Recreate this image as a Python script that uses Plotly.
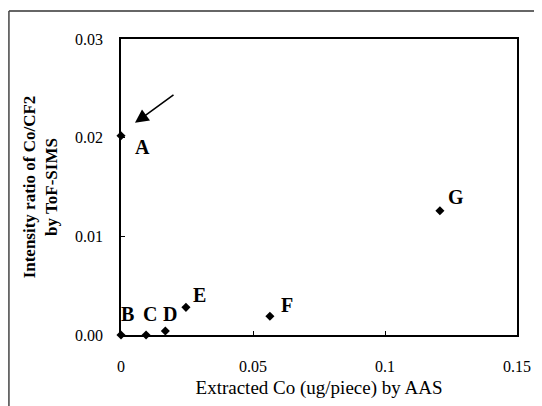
import plotly.graph_objects as go

labels = ["A", "B", "C", "D", "E", "F", "G"]
x_vals = [0.0, 0.0, 0.0095, 0.0168, 0.0246, 0.0564, 0.1208]
y_vals = [0.0202, 0.0, 0.0, 0.0004, 0.0028, 0.0019, 0.0126]

x_ticks = [0, 0.05, 0.1, 0.15]
x_ticktext = ["0", "0.05", "0.1", "0.15"]
y_ticks = [0, 0.01, 0.02, 0.03]
y_ticktext = ["0.00", "0.01", "0.02", "0.03"]

FONT = "Liberation Serif"

fig = go.Figure()
fig.add_trace(go.Scatter(
    x=x_vals, y=y_vals, mode="markers",
    marker=dict(symbol="diamond", size=7, color="black"),
    cliponaxis=False, showlegend=False, hoverinfo="x+y",
))

# point label offsets in pixels (right, down)
offsets = {"A": (21, 11), "B": (6, -21), "C": (4, -21), "D": (5, -17),
           "E": (14, -12), "F": (17, -11), "G": (16, -14)}
for lab, xv, yv in zip(labels, x_vals, y_vals):
    dx, dy = offsets[lab]
    fig.add_annotation(x=xv, y=yv, text="<b>" + lab + "</b>", showarrow=False,
                       xshift=dx, yshift=-dy, font=dict(family=FONT, size=20, color="black"))

# arrow pointing to A
fig.add_annotation(x=0.0053, y=0.0215, ax=40, ay=-29, text="", showarrow=True,
                   arrowhead=2, arrowsize=1.7, arrowwidth=1.6, arrowcolor="black")

fig.update_xaxes(
    range=[0, 0.15], tickvals=x_ticks, ticktext=x_ticktext,
    showline=True, linecolor="black", linewidth=1.5, mirror=True,
    showgrid=False, zeroline=False, ticks="inside", ticklen=4, tickcolor="black",
    tickfont=dict(family=FONT, size=16, color="black"), ticklabelstandoff=16,
    title=dict(text="Extracted Co (ug/piece) by AAS", font=dict(family=FONT, size=19, color="black"), standoff=7),
)
fig.update_yaxes(
    range=[0, 0.03], tickvals=y_ticks, ticktext=y_ticktext,
    showline=True, linecolor="black", linewidth=1.5, mirror=True,
    showgrid=False, zeroline=False, ticks="inside", ticklen=4, tickcolor="black",
    tickfont=dict(family=FONT, size=16, color="black"), ticklabelstandoff=13,
    title=dict(text="<b>Intensity ratio of Co/CF2<br>by ToF-SIMS</b>", font=dict(family=FONT, size=17, color="black"), standoff=13),
)

# scanned page frame
fig.add_shape(type="line", xref="paper", yref="paper", x0=-0.283, x1=1.08, y0=1.095, y1=1.095,
              line=dict(color="#333", width=1.5))
fig.add_shape(type="line", xref="paper", yref="paper", x0=-0.283, x1=-0.283, y0=1.095, y1=-0.26,
              line=dict(color="#444", width=1.5))

fig.update_layout(
    width=534, height=398,
    margin=dict(l=113, r=25, t=31, b=71),
    paper_bgcolor="white", plot_bgcolor="white",
    font=dict(family=FONT, color="black"),
)

fig.write_html("out.html")
